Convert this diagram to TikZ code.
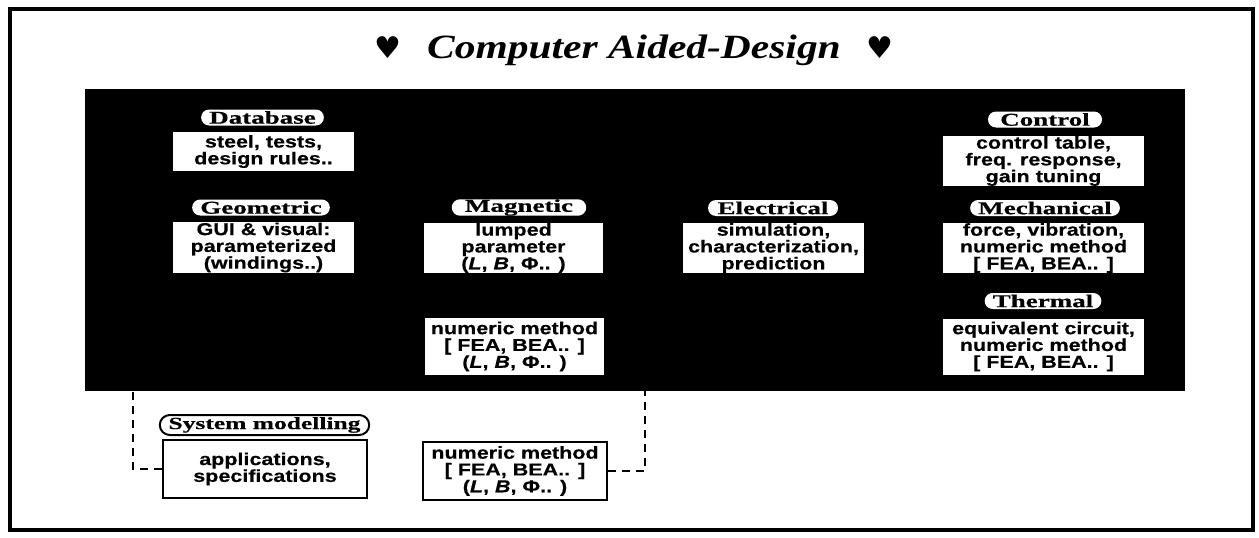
\documentclass[tikz,border=0pt]{standalone}
\usepackage{fontspec}
\usetikzlibrary{shapes.misc}
\newfontfamily\titlefont[FakeStretch=1.22]{Liberation Serif}
\newfontfamily\pillfont[FakeStretch=1.5,FakeBold=0.6]{Liberation Serif}
\newfontfamily\boxfont[FakeStretch=1.25,FakeBold=0.4]{Liberation Sans}
\newfontfamily\symfont{DejaVu Sans}
\tikzset{
  ibox/.style={fill=white, inner sep=0pt, align=center,
    font=\boxfont\bfseries\fontsize{17.2}{16.8}\selectfont},
  obox/.style={ibox, draw=black, line width=2pt},
  pill/.style={rounded rectangle, fill=white, inner xsep=5pt, inner ysep=0pt,
    minimum height=16pt, font=\pillfont\bfseries\fontsize{18}{18}\selectfont},
  opill/.style={pill, draw=black, line width=2pt, minimum height=20pt,
    font=\pillfont\bfseries\fontsize{17}{17}\selectfont},
  conn/.style={line width=2.5pt, dash pattern=on 8pt off 6pt},
}
\begin{document}
\begin{tikzpicture}[x=1pt,y=-1pt]
\useasboundingbox (0,0) rectangle (1259,538);
\fill[white] (0,0) rectangle (1259,538);
% outer frame
\draw[line width=3.5pt] (10,9) rectangle (1253,530);
% title
\node (title) at (634,50) {{\symfont\fontsize{30}{30}\selectfont ♥}\hspace{26pt}{\titlefont\bfseries\itshape\fontsize{34}{34}\selectfont Computer Aided-Design}\hspace{26pt}{\symfont\fontsize{30}{30}\selectfont ♥}};
% black panel
\fill[black] (85,89) rectangle (1185,391);
\coordinate (ltop) at (133,391);
\coordinate (rtop) at (645,391);
% left column
\node[pill, minimum width=121pt] (dbl) at (262.5,117.5) {Database};
\node[ibox, minimum width=181pt, minimum height=39pt] (db) at (263.5,151.5) {steel, tests,\\design rules..};
\node[pill, minimum width=124pt] (geol) at (261,207.5) {Geometric};
\node[ibox, minimum width=181pt, minimum height=51pt] (geo) at (263.5,247.5) {GUI \& visual:\\parameterized\\(windings..)};
% magnetic
\node[pill, minimum width=132pt] (magl) at (519,207.5) {Magnetic};
\node[ibox, minimum width=179pt, minimum height=50pt] (mag) at (513.5,248) {lumped\\parameter\\(\textit{L}, \textit{B}, Φ.. )};
\node[ibox, minimum width=179pt, minimum height=57pt] (magn) at (514.5,346.5) {numeric method\\{[} FEA, BEA.. ]\\(\textit{L}, \textit{B}, Φ.. )};
% electrical
\node[pill, minimum width=140pt] (ell) at (773,208) {Electrical};
\node[ibox, minimum width=181pt, minimum height=50pt] (el) at (773.5,248) {simulation,\\characterization,\\prediction};
% right column
\node[pill, minimum width=124pt] (ctl) at (1045,119.5) {Control};
\node[ibox, minimum width=201pt, minimum height=48pt] (ct) at (1043.5,161) {control table,\\freq. response,\\gain tuning};
\node[pill, minimum width=140pt] (mel) at (1045,208) {Mechanical};
\node[ibox, minimum width=201pt, minimum height=50pt] (me) at (1043.5,248) {force, vibration,\\numeric method\\{[} FEA, BEA.. ]};
\node[pill, minimum width=112pt] (thl) at (1043,301) {Thermal};
\node[ibox, minimum width=201pt, minimum height=56pt] (th) at (1043.5,346.5) {equivalent circuit,\\numeric method\\{[} FEA, BEA.. ]};
% bottom
\node[opill, minimum width=205pt] (sysl) at (264.5,425) {System modelling};
\node[obox, minimum width=204pt, minimum height=58pt] (sys) at (265,469) {applications,\\specifications};
\node[obox, minimum width=184pt, minimum height=58pt] (num) at (515,471) {numeric method\\{[} FEA, BEA.. ]\\(\textit{L}, \textit{B}, Φ.. )};
% connectors
\draw[conn] (sys.west) -| (ltop);
\draw[conn] (num.east) -| (rtop);
\end{tikzpicture}
\end{document}
